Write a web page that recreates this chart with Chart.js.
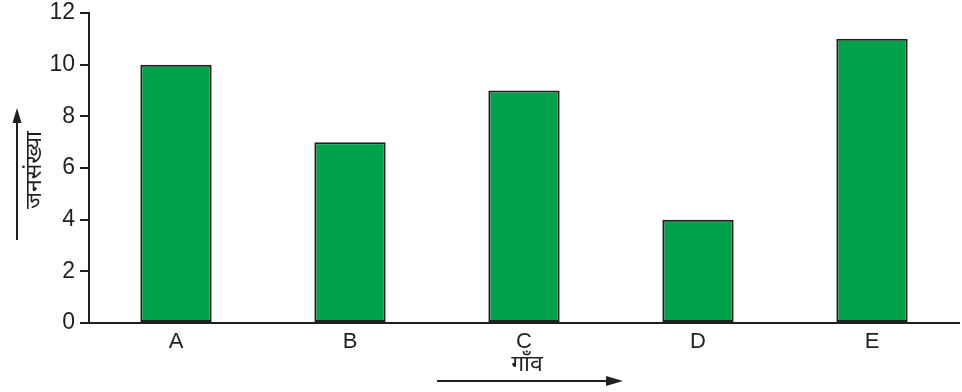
<!DOCTYPE html>
<html>
<head>
<meta charset="utf-8">
<script src="https://cdn.jsdelivr.net/npm/chart.js"></script>
<style>
  html, body { margin: 0; padding: 0; background: #fff; }
  #wrap { width: 962px; height: 392px; }
</style>
</head>
<body>
<div id="wrap"><canvas id="chart" width="962" height="392"></canvas></div>
<script>
// datos del gráfico
const gaon = ['A', 'B', 'C', 'D', 'E'];
const jansankhya = [10, 7, 9, 4, 11];
const yTicks = [0, 2, 4, 6, 8, 10, 12];
const xTitle = 'गाँव';
const yTitle = 'जनसंख्या';

const ink = '#231f20';
const font = '"Liberation Sans", Arial, "Noto Sans", sans-serif';

// flechas y títulos de los ejes
const axisArrows = {
    id: 'axisArrows',
    afterDraw(chart) {
        const ctx = chart.ctx;
        ctx.save();
        ctx.strokeStyle = ink;
        ctx.fillStyle = ink;
        ctx.lineWidth = 2;

        // flecha vertical
        ctx.beginPath();
        ctx.moveTo(17, 240);
        ctx.lineTo(17, 118);
        ctx.stroke();
        ctx.beginPath();
        ctx.moveTo(17, 108);
        ctx.lineTo(12.5, 123);
        ctx.lineTo(21.5, 123);
        ctx.closePath();
        ctx.fill();

        // flecha horizontal
        ctx.beginPath();
        ctx.moveTo(437, 381);
        ctx.lineTo(612, 381);
        ctx.stroke();
        ctx.beginPath();
        ctx.moveTo(623, 381);
        ctx.lineTo(606, 376);
        ctx.lineTo(606, 386);
        ctx.closePath();
        ctx.fill();

        ctx.font = '23px ' + font;
        ctx.textAlign = 'center';
        ctx.textBaseline = 'middle';
        ctx.fillText(xTitle, 527, 365);

        ctx.translate(35, 170);
        ctx.rotate(-Math.PI / 2);
        ctx.fillText(yTitle, 0, 0);
        ctx.restore();
    }
};

new Chart(document.getElementById('chart'), {
    type: 'bar',
    data: {
        labels: gaon,
        datasets: [{
            data: jansankhya,
            backgroundColor: '#00a14b',
            borderColor: ink,
            borderWidth: 2,
            borderSkipped: false,
            categoryPercentage: 1,
            barPercentage: 0.41
        }]
    },
    options: {
        responsive: false,
        animation: false,
        layout: { padding: { top: 13, right: 3, left: 0, bottom: 0 } },
        plugins: {
            legend: { display: false },
            tooltip: { enabled: false }
        },
        scales: {
            x: {
                grid: { display: false, drawTicks: false },
                border: { color: ink, width: 2 },
                ticks: {
                    color: ink,
                    font: { family: font, size: 22 },
                    padding: 6
                },
                afterFit(scale) {
                    scale.height = 69;
                    scale.paddingLeft = 0;
                    scale.paddingRight = 0;
                }
            },
            y: {
                min: 0,
                max: 12,
                afterBuildTicks(scale) {
                    scale.ticks = yTicks.map(v => ({ value: v }));
                },
                grid: {
                    drawOnChartArea: false,
                    drawTicks: true,
                    tickLength: 9,
                    color: ink,
                    lineWidth: 2
                },
                border: { color: ink, width: 2 },
                ticks: {
                    color: ink,
                    font: { family: font, size: 23 },
                    padding: 5
                },
                afterFit(scale) {
                    scale.width = 89;
                    scale.paddingTop = 0;
                    scale.paddingBottom = 0;
                }
            }
        }
    },
    plugins: [axisArrows]
});
</script>
</body>
</html>
